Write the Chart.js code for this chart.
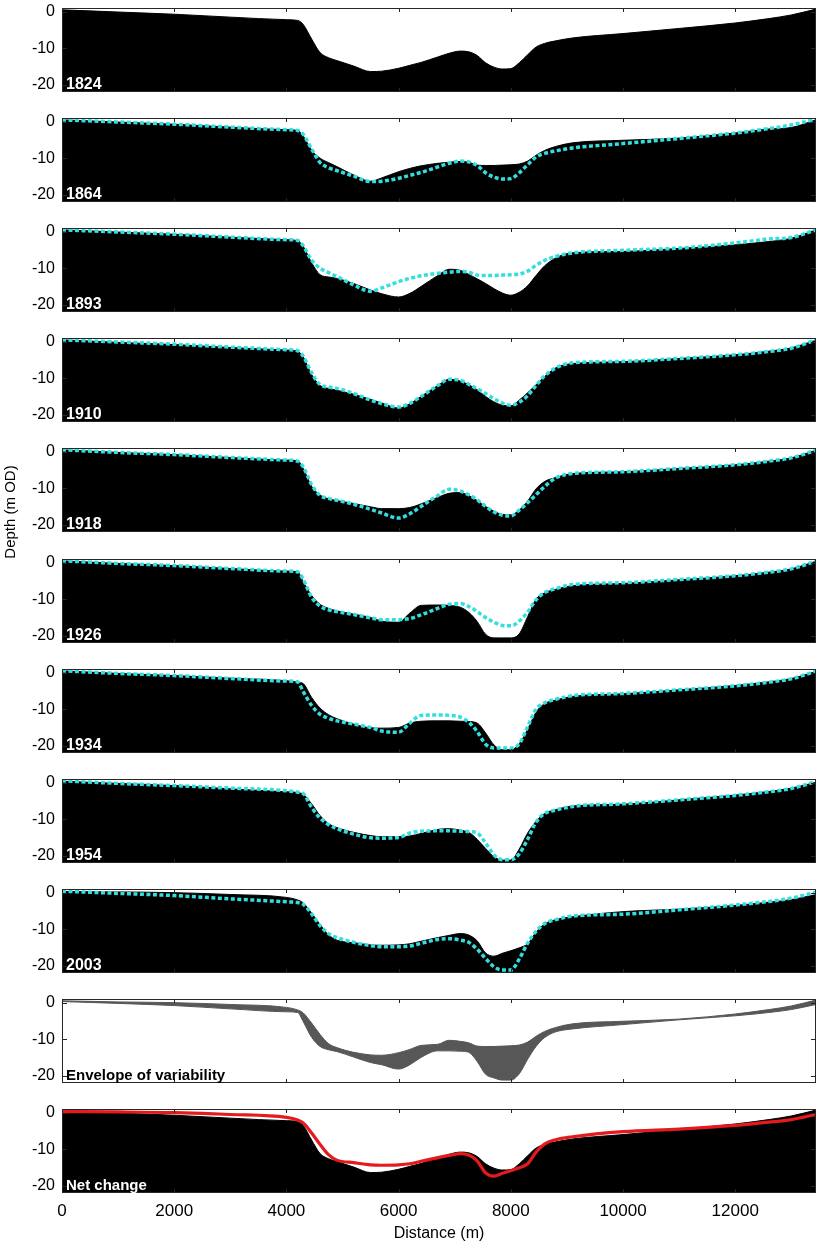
<!DOCTYPE html>
<html>
<head>
<meta charset="utf-8">
<script src="https://cdn.jsdelivr.net/npm/chart.js@4.4.1/dist/chart.umd.min.js"></script>
<style>
  body { margin: 0; background: #fff; overflow: hidden; }
  #fig { position: relative; width: 818px; height: 1248px; }
  #fig canvas { position: absolute; left: 0; }
</style>
</head>
<body>
<div id="fig"></div>
<script>
// distance along the section (m)
const dist = [0, 1000, 2000, 3000, 4000, 4200, 4300, 4450, 4600, 4750, 4900, 5200, 5500, 5700,
  6000, 6200, 6400, 6700, 6900, 7100, 7250, 7400, 7550, 7700, 7850, 8000, 8150, 8300, 8450,
  8600, 8800, 9100, 10000, 11000, 12000, 12600, 13000, 13440];

// depth (m OD) of each survey
const d1824 = [0.5, -0.1, -0.7, -1.5, -2.2, -2.4, -3.5, -7.5, -11.2, -12.6, -13.4, -14.9, -16.4, -16.3,
  -15.5, -14.7, -13.9, -12.4, -11.4, -10.8, -11.0, -12.0, -14.0, -15.2, -15.7, -15.6, -14.0, -11.8, -9.7,
  -8.7, -8.0, -7.2, -6.0, -4.6, -3.1, -1.9, -0.9, 0.7];
const d1864 = [0.5, -0.1, -0.7, -1.5, -2.2, -2.4, -3.9, -7.8, -10.0, -11.2, -12.3, -14.6, -16.3, -15.4,
  -13.7, -12.8, -12.1, -11.4, -11.1, -10.9, -11.1, -11.9, -12.0, -12.0, -11.9, -11.8, -11.6, -10.8, -9.2,
  -7.9, -6.8, -5.8, -5.1, -4.5, -3.1, -2.0, -1.6, 0.5];
const d1893 = [0.5, -0.1, -0.7, -1.5, -2.2, -2.5, -4.0, -8.5, -11.8, -12.4, -12.8, -14.2, -16.0, -17.0,
  -17.9, -16.9, -15.0, -12.0, -10.3, -10.6, -11.7, -12.9, -14.2, -15.6, -16.8, -17.4, -16.6, -14.8, -12.0,
  -9.4, -7.2, -5.8, -5.4, -4.6, -3.6, -2.7, -1.8, 0.5];
const d1910 = [0.5, -0.2, -0.8, -1.6, -2.3, -2.6, -4.2, -9.0, -12.0, -12.8, -13.3, -14.4, -15.8, -16.8,
  -18.2, -17.0, -15.0, -12.0, -10.3, -10.8, -11.8, -13.2, -15.0, -16.5, -17.4, -17.6, -16.0, -14.0, -11.8,
  -9.6, -7.2, -6.0, -5.5, -4.6, -3.6, -2.6, -1.7, 0.4];
const d1918 = [0.5, -0.2, -0.8, -1.6, -2.3, -2.5, -4.6, -9.5, -11.9, -12.9, -13.4, -14.2, -15.1, -15.6,
  -15.6, -15.3, -14.3, -12.5, -11.4, -11.2, -12.0, -13.4, -15.0, -16.3, -17.2, -17.3, -16.0, -13.5, -10.2,
  -8.2, -7.1, -6.0, -5.5, -4.6, -3.6, -2.6, -1.7, 0.4];
const d1926 = [0.5, -0.2, -0.8, -1.6, -2.3, -2.5, -5.2, -9.0, -11.4, -12.5, -13.2, -14.1, -15.0, -16.0,
  -16.3, -13.8, -11.7, -11.6, -11.7, -12.2, -13.6, -16.1, -19.6, -20.6, -20.6, -20.6, -19.5, -14.8, -10.0,
  -8.3, -7.3, -6.3, -5.7, -4.7, -3.6, -2.6, -1.7, 0.4];
const d1934 = [0.5, -0.2, -0.8, -1.5, -2.2, -2.6, -3.0, -6.8, -9.7, -11.5, -12.6, -14.1, -15.1, -15.2,
  -15.0, -13.8, -13.3, -13.2, -13.2, -13.3, -13.4, -13.8, -16.5, -19.8, -21.1, -21.1, -19.5, -15.5, -10.8,
  -8.5, -7.5, -6.5, -5.8, -4.7, -3.5, -2.5, -1.6, 0.3];
const d1954 = [0.4, -0.2, -0.8, -1.7, -2.5, -2.7, -3.2, -5.8, -9.0, -11.2, -12.3, -13.6, -14.5, -14.8,
  -14.8, -14.6, -13.9, -12.8, -12.6, -13.0, -13.6, -15.5, -18.0, -20.3, -21.2, -21.2, -18.2, -13.8, -10.6,
  -8.5, -7.4, -6.4, -5.9, -4.7, -3.4, -2.4, -1.5, 0.1];
const d2003 = [0.3, 0.2, 0.0, -0.5, -1.3, -2.0, -2.8, -5.6, -8.7, -11.5, -13.0, -13.7, -14.3, -14.4,
  -14.3, -14.0, -13.3, -12.3, -11.7, -11.2, -11.6, -13.2, -16.5, -17.4, -16.6, -15.9, -15.1, -14.0, -10.8,
  -8.6, -7.4, -6.6, -5.2, -4.5, -3.5, -2.6, -1.9, -0.5];

const xTicks = [0, 2000, 4000, 6000, 8000, 10000, 12000];
const yTicks = [0, -10, -20];

const FONT = '"Liberation Sans", Arial, Helvetica, sans-serif';
const CYAN = '#33dede';
const RED = '#e41a1c';
const GREY = '#575757';

// envelope of all surveys
const surveys = [d1824, d1864, d1893, d1910, d1918, d1926, d1934, d1954, d2003];
const envHi = dist.map((_, k) => Math.max(...surveys.map(s => s[k])));
const envLo = dist.map((_, k) => Math.min(...surveys.map(s => s[k])));

const panels = [
  { label: '1824', fill: d1824 },
  { label: '1864', fill: d1864, dash: d1824 },
  { label: '1893', fill: d1893, dash: d1864 },
  { label: '1910', fill: d1910, dash: d1893 },
  { label: '1918', fill: d1918, dash: d1910, ytitle: true },
  { label: '1926', fill: d1926, dash: d1918 },
  { label: '1934', fill: d1934, dash: d1926 },
  { label: '1954', fill: d1954, dash: d1934 },
  { label: '2003', fill: d2003, dash: d1954 },
  { label: 'Envelope of variability', env: true, color: '#000', size: 15 },
  { label: 'Net change', fill: d1824, red: d2003, size: 15 }
];

function pts(arr) {
  return dist.map((x, k) => ({ x: x, y: arr[k] }));
}

// box, inward ticks, panel label and the shared y title
const panelBox = {
  id: 'panelBox',
  afterDatasetsDraw(chart, args, o) {
    const { ctx, chartArea: a, scales: { x, y } } = chart;
    ctx.save();
    ctx.strokeStyle = '#262626';
    ctx.lineWidth = 1;
    ctx.beginPath();
    xTicks.forEach(v => {
      const px = Math.round(x.getPixelForValue(v)) + 0.5;
      ctx.moveTo(px, a.top); ctx.lineTo(px, a.top + 4);
      ctx.moveTo(px, a.bottom); ctx.lineTo(px, a.bottom - 4);
    });
    yTicks.forEach(v => {
      const py = Math.round(y.getPixelForValue(v)) + 0.5;
      ctx.moveTo(a.left, py); ctx.lineTo(a.left + 5, py);
      ctx.moveTo(a.right, py); ctx.lineTo(a.right - 5, py);
    });
    ctx.stroke();
    ctx.strokeRect(a.left + 0.5, a.top + 0.5, a.right - a.left - 1, a.bottom - a.top - 1);

    ctx.fillStyle = o.color;
    ctx.font = 'bold ' + o.size + 'px ' + FONT;
    ctx.textBaseline = 'alphabetic';
    ctx.fillText(o.label, a.left + 4, a.bottom - 3);

    if (o.ytitle) {
      ctx.translate(11, o.ytitle);
      ctx.rotate(-Math.PI / 2);
      ctx.fillStyle = '#000';
      ctx.font = '15px ' + FONT;
      ctx.textAlign = 'center';
      ctx.textBaseline = 'middle';
      ctx.fillText('Depth (m OD)', 0, 0);
    }
    ctx.restore();
  }
};

const fig = document.getElementById('fig');

panels.forEach((p, i) => {
  const top = Math.round(8 + 110.1 * i);
  const last = i === panels.length - 1;
  const padTop = 8;
  let h = 100, padBottom = 8;
  if (p.ytitle) { h = 160; padBottom = 68; }
  if (last) { h = 1248 - (top - padTop); padBottom = 0; }

  const cv = document.createElement('canvas');
  cv.width = 818;
  cv.height = h;
  cv.style.top = (top - padTop) + 'px';
  fig.appendChild(cv);

  const datasets = [];
  if (p.dash) {
    datasets.push({ data: pts(p.dash), borderColor: CYAN, borderWidth: 3.5, borderDash: [4, 2.5],
      fill: false, pointRadius: 0, order: 1 });
  }
  if (p.red) {
    datasets.push({ data: pts(p.red), borderColor: RED, borderWidth: 3.2, fill: false, pointRadius: 0, order: 1 });
  }
  if (p.fill) {
    datasets.push({ data: pts(p.fill), borderColor: '#000', borderWidth: 1, backgroundColor: '#000',
      fill: 'start', pointRadius: 0, order: 2 });
  }
  if (p.env) {
    datasets.push({ data: pts(envHi), borderColor: GREY, borderWidth: 1, backgroundColor: GREY,
      fill: '+1', pointRadius: 0 });
    datasets.push({ data: pts(envLo), borderColor: GREY, borderWidth: 1, fill: false, pointRadius: 0 });
  }

  new Chart(cv, {
    type: 'line',
    data: { datasets: datasets },
    options: {
      responsive: false,
      animation: false,
      events: [],
      layout: { padding: { top: padTop, bottom: padBottom, left: 0, right: 2 } },
      elements: { line: { cubicInterpolationMode: 'monotone' } },
      plugins: {
        legend: { display: false },
        tooltip: { enabled: false },
        panelBox: {
          label: p.label,
          color: p.color || '#fff',
          size: p.size || 16,
          ytitle: p.ytitle ? 512 - (top - padTop) : null
        }
      },
      scales: {
        x: {
          type: 'linear',
          min: 0,
          max: 13440,
          display: last,
          afterBuildTicks: s => { s.ticks = xTicks.map(v => ({ value: v })); },
          grid: { display: false, drawTicks: false },
          border: { display: false },
          ticks: { font: { family: FONT, size: 17 }, color: '#000', padding: 8, maxRotation: 0,
            callback: v => String(v) },
          title: { display: last, text: 'Distance (m)', font: { family: FONT, size: 16 }, color: '#000',
            padding: { top: 0, bottom: 5 } },
          afterFit: s => {
            if (last) s.height = 55;
            s.paddingLeft = 0;
            s.paddingRight = 0;
          }
        },
        y: {
          min: -22,
          max: 1,
          afterBuildTicks: s => { s.ticks = yTicks.map(v => ({ value: v })); },
          grid: { display: false, drawTicks: false },
          border: { display: false },
          ticks: { font: { family: FONT, size: 16 }, color: '#000', padding: 7 },
          afterFit: s => {
            s.width = 62;
            s.paddingTop = 0;
            s.paddingBottom = 0;
          }
        }
      }
    },
    plugins: [panelBox]
  });
});
</script>
</body>
</html>
